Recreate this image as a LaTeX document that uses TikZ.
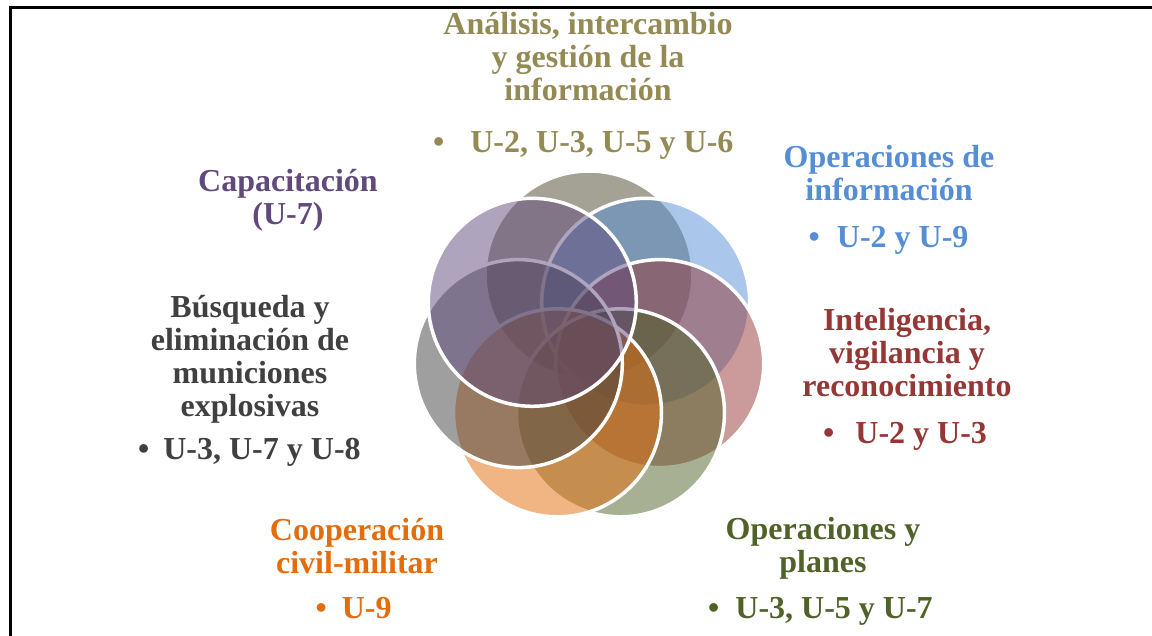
\documentclass[tikz,border=0pt]{standalone}
\usepackage{fontspec}
\setmainfont{Liberation Serif}
\newcommand{\mylines}[1]{\begin{tabular}[t]{@{}c@{}}#1\end{tabular}}
\definecolor{cAn}{HTML}{948A54}
\definecolor{fAn}{HTML}{4A452A}
\definecolor{cInfo}{HTML}{558ED5}
\definecolor{cInt}{HTML}{953735}
\definecolor{cOp}{HTML}{4F6228}
\definecolor{cCo}{HTML}{E46C0A}
\definecolor{cBu}{HTML}{404040}
\definecolor{cCa}{HTML}{604A7B}
\begin{document}
\begin{tikzpicture}[x=1pt,y=-1pt,
  petal/.style={fill=#1, fill opacity=0.5, draw=white, draw opacity=1, line width=3.5pt},
  lbl/.style={inner sep=0pt, font=\fontsize{32}{33}\selectfont\bfseries, text=#1, anchor=base},
  bul/.style={lbl=#1, anchor=base west}]
\useasboundingbox (0,0) rectangle (1152,635);
\draw[line width=3pt] (10.5,640) -- (10.5,7.5) -- (1160,7.5);
% circles
\def\R{104}
\draw[petal=fAn]  (589,275)     circle (\R);
\draw[petal=cInfo] (645.7,302.3) circle (\R);
\draw[petal=cInt] (659.7,363.6) circle (\R);
\draw[petal=cOp]  (620.5,412.8) circle (\R);
\draw[petal=cCo]  (557.5,412.8) circle (\R);
\draw[petal=cBu]  (518.3,363.6) circle (\R);
\draw[petal=cCa]  (532.3,302.3) circle (\R);
% labels
\node[lbl=cAn] (an) at (588,34) {\mylines{Análisis, intercambio\\ y gestión de la\\ información}};
\node[bul=cAn] (anb) at (433,152) {\textbullet\hspace{26pt}U-2, U-3, U-5 y U-6};
\node[lbl=cCa] (ca) at (288,191) {\mylines{Capacitación\\ (U-7)}};
\node[lbl=cBu] (bu) at (250,317) {\mylines{Búsqueda y\\ eliminación de\\ municiones\\ explosivas}};
\node[bul=cBu] (bub) at (138,459) {\textbullet\hspace{14pt}U-3, U-7 y U-8};
\node[lbl=cInfo] (inf) at (889,167) {\mylines{Operaciones de\\ información}};
\node[bul=cInfo] (infb) at (808.5,247) {\textbullet\hspace{17pt}U-2 y U-9};
\node[lbl=cInt] (int) at (907,330) {\mylines{Inteligencia,\\ vigilancia y\\ reconocimiento}};
\node[bul=cInt] (intb) at (823,443) {\textbullet\hspace{21pt}U-2 y U-3};
\node[lbl=cOp] (op) at (823,539) {\mylines{Operaciones y\\ planes}};
\node[bul=cOp] (opb) at (708,618) {\textbullet\hspace{16pt}U-3, U-5 y U-7};
\node[lbl=cCo] (co) at (357,540) {\mylines{Cooperación\\ civil-militar}};
\node[bul=cCo] (cob) at (315.5,618) {\textbullet\hspace{15pt}U-9};
\end{tikzpicture}
\end{document}
